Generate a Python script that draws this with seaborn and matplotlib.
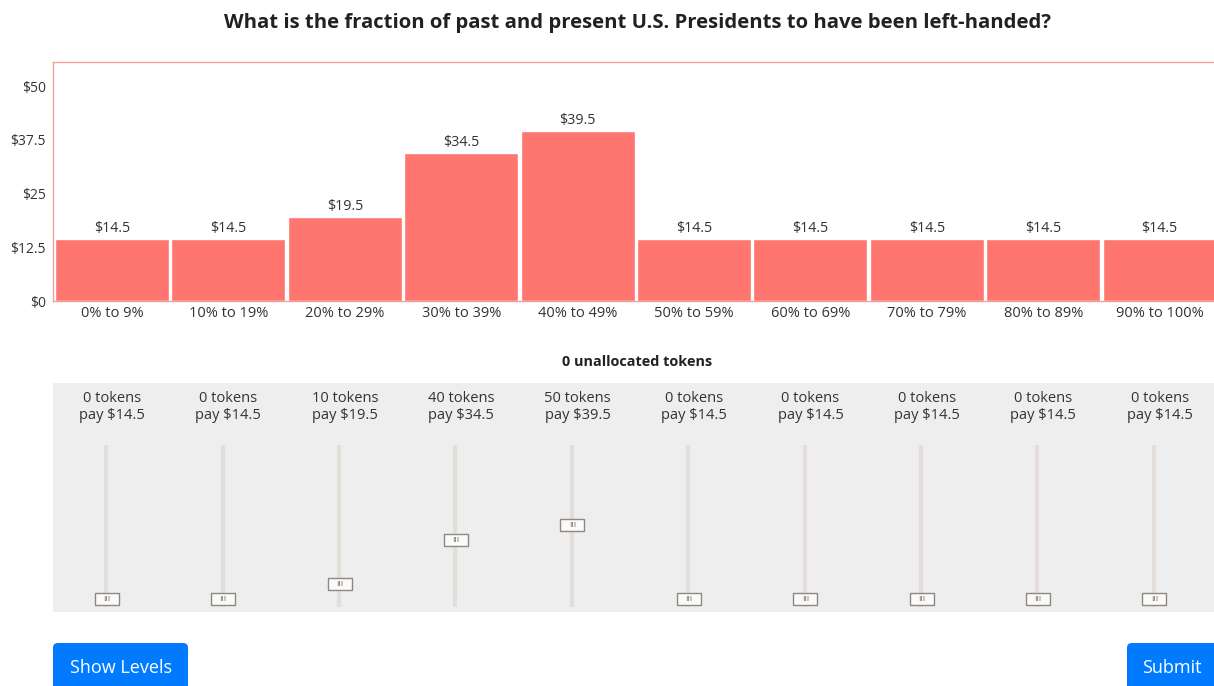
import numpy as np
import pandas as pd
import matplotlib
matplotlib.use('Agg')
from matplotlib import pyplot as plt
from matplotlib.patches import FancyBboxPatch
import seaborn as sns

# chart data
bins = ['0% to 9%', '10% to 19%', '20% to 29%', '30% to 39%', '40% to 49%',
        '50% to 59%', '60% to 69%', '70% to 79%', '80% to 89%', '90% to 100%']
payouts = [14.5, 14.5, 19.5, 34.5, 39.5, 14.5, 14.5, 14.5, 14.5, 14.5]
tokens = [0, 0, 10, 40, 50, 0, 0, 0, 0, 0]
y_ticks = [0, 12.5, 25, 37.5, 50]
y_tick_labels = ['$0', '$12.5', '$25', '$37.5', '$50']

sns.set_theme(style='white')
plt.rcParams['font.family'] = ['Open Sans', 'DejaVu Sans']
text_col = '#333333'
bar_col = '#fe766f'

W, H = 1214, 686
fig = plt.figure(figsize=(W / 100, H / 100), dpi=100)

# main bar chart
ax = fig.add_axes([53 / W, (H - 301) / H, (1226 - 53) / W, 239 / H])
df = pd.DataFrame({'bin': bins, 'pay': payouts})
sns.barplot(data=df, x='bin', y='pay', color=bar_col, saturation=1,
            width=0.98, ax=ax)
ax.bar_label(ax.containers[0], labels=[f'${v}' for v in payouts],
             padding=2, fontsize=10.3, color=text_col)
ax.set_xlim(-0.507, 9.57)
ax.set_ylim(0, 55.6)
ax.set_yticks(y_ticks)
ax.set_yticklabels(y_tick_labels)
ax.set_xlabel('')
ax.set_ylabel('')
ax.tick_params(axis='both', length=0, labelsize=10.5, colors=text_col)
ax.tick_params(axis='y', pad=5, labelsize=10)
ax.tick_params(axis='x', pad=3.5)
for s in ax.spines.values():
    s.set_color('#f4a09a')
    s.set_linewidth(1)

fig.text(638 / W, 1 - 23 / H,
         'What is the fraction of past and present U.S. Presidents to have been left-handed?',
         ha='center', va='center', fontsize=14.6, fontweight='bold', color='#212121')
fig.text(637 / W, 1 - 362 / H, '0 unallocated tokens', ha='center', va='center',
         fontsize=10.4, fontweight='bold', color='#212121')

# slider panel
ax2 = fig.add_axes([53 / W, (H - 612) / H, (1226 - 53) / W, 229 / H])
ax2.set_facecolor('#eeeeee')
ax2.set_xlim(-0.507, 9.57)
ax2.set_ylim(-8.8, 145.9)
ax2.set_xticks([])
ax2.set_yticks([])
for s in ax2.spines.values():
    s.set_visible(False)

xs = np.arange(len(bins))
ax2.vlines(xs - 0.05, -5.4, 104, color='#e3deda', lw=3, zorder=1)
handle = [(-2, -1), (2, -1), (2, 1), (-2, 1), (-2, -1)]
sns.scatterplot(x=xs - 0.045, y=tokens, marker=handle, s=300,
                color='#fbfaf9', edgecolor='#8c8884', linewidth=1,
                ax=ax2, zorder=3)
for i, (t, p) in enumerate(zip(tokens, payouts)):
    ax2.text(i - 0.045, t - 0.5, 'III', ha='center', va='center', fontsize=6,
             color='#666666', zorder=4)
    ax2.text(i, 129.6, f'{t} tokens\npay ${p}', ha='center', va='center',
             fontsize=10.5, color=text_col, linespacing=1.22)

# buttons
for x0, x1, label, cx in [(53, 188, 'Show Levels', 121), (1127, 1222, 'Submit', 1172)]:
    fig.patches.append(FancyBboxPatch(
        (x0 / W, -6 / H), (x1 - x0) / W, 49 / H,
        boxstyle='round,pad=0,rounding_size=0.004', mutation_aspect=W / H,
        transform=fig.transFigure, facecolor='#007bff', edgecolor='none'))
    fig.text(cx / W, 1 - 668 / H, label, ha='center', va='center',
             fontsize=13, color='white')

fig.savefig('out.png', dpi=100)
